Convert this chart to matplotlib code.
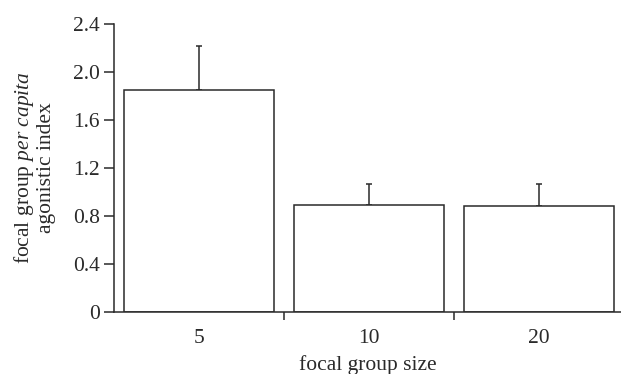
import matplotlib as mpl
mpl.use('Agg')
import matplotlib.pyplot as plt
from matplotlib.ticker import FuncFormatter
import numpy as np

group_sizes = ['5', '10', '20']
index_mean = [1.85, 0.89, 0.885]
index_err = [0.37, 0.18, 0.18]
yticks = [0, 0.4, 0.8, 1.2, 1.6, 2.0, 2.4]

plt.rcParams['font.family'] = 'Liberation Serif'
plt.rcParams['mathtext.fontset'] = 'custom'
plt.rcParams['mathtext.rm'] = 'Liberation Serif'
plt.rcParams['mathtext.it'] = 'Liberation Serif:italic'

ink = '#2a2a2a'
fs = 15.5
fig = plt.figure(figsize=(6.21, 3.74), dpi=100)
ax = fig.add_axes([114 / 621, 62 / 374, 507 / 621, 288 / 374])

x = np.arange(len(group_sizes))
ax.bar(x, index_mean, width=0.886, color='white', edgecolor=ink, linewidth=1.1, zorder=2)
ax.errorbar(x, index_mean, yerr=[np.zeros(len(x)), index_err], fmt='none',
            ecolor=ink, elinewidth=1.1, capsize=2, capthick=1.1, zorder=1)

ax.set_xlim(-0.5, -0.5 + 507 / 170)
ax.set_ylim(0, 2.4)
ax.set_yticks(yticks)
ax.yaxis.set_major_formatter(FuncFormatter(lambda v, p: '0' if v == 0 else f'{v:.1f}'))

ax.set_xticks(x)
ax.set_xticklabels(group_sizes)
ax.set_xticks([0.5, 1.5], minor=True)
ax.tick_params(axis='x', which='major', length=0, pad=12, labelsize=fs, colors=ink)
ax.tick_params(axis='x', which='minor', length=6, width=1.1, color=ink, direction='out')
ax.tick_params(axis='y', length=7, width=1.1, color=ink, labelsize=fs, labelcolor=ink, pad=3)

for s in ['top', 'right']:
    ax.spines[s].set_visible(False)
for s in ['left', 'bottom']:
    ax.spines[s].set_color(ink)
    ax.spines[s].set_linewidth(1.1)

ax.set_xlabel('focal group size', fontsize=fs, color=ink, labelpad=5)
ax.set_ylabel('focal group $\\mathit{per\\ capita}$\nagonistic index', fontsize=fs,
              color=ink, linespacing=1.1, labelpad=12)

fig.savefig('out.png', dpi=100)
